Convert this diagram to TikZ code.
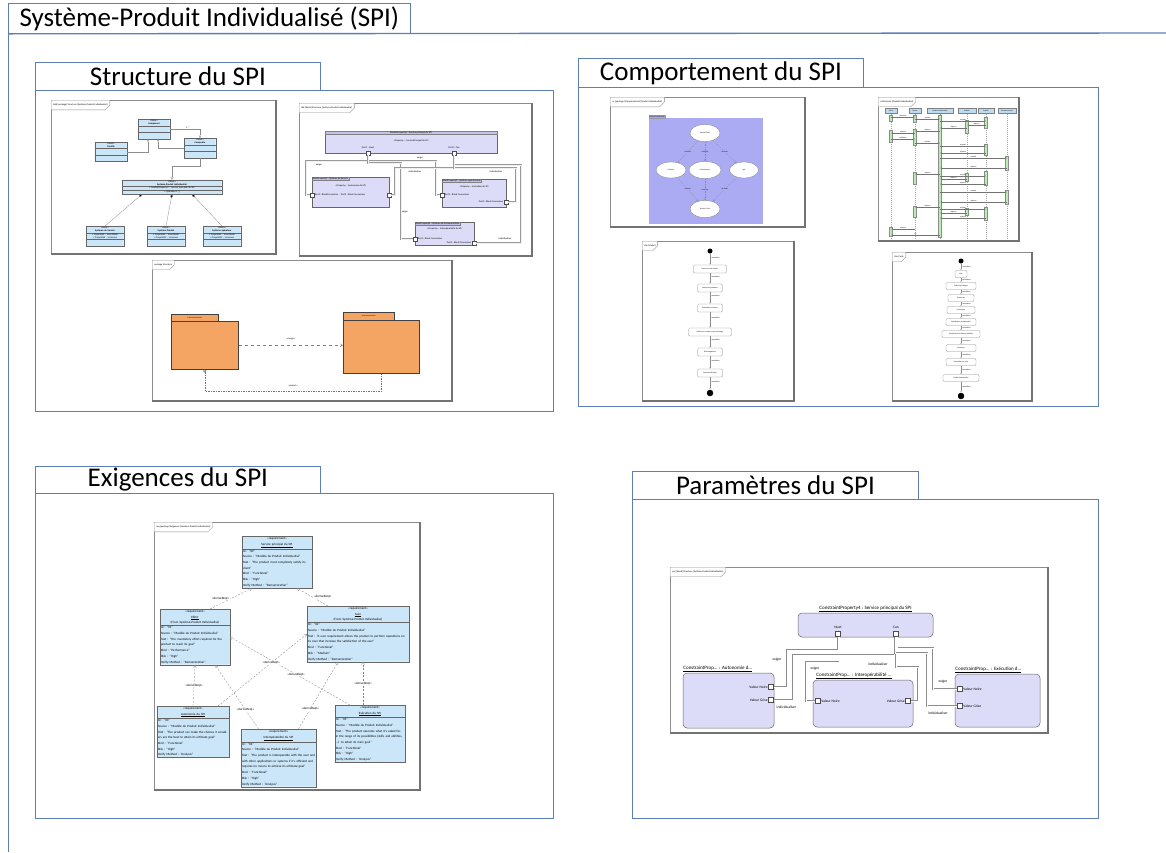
\documentclass[tikz,border=0pt]{standalone}
\usepackage{fontspec}
\setmainfont{Carlito}
\usepackage{tikz}
\usetikzlibrary{arrows.meta}
\usetikzlibrary{shapes.geometric}
\usetikzlibrary{shapes.misc}
\usetikzlibrary{shapes.multipart}

\definecolor{panelblue}{HTML}{5E7FB5}
\definecolor{framegray}{HTML}{8C8C8C}
\definecolor{blockblue}{HTML}{CCE6F9}
\definecolor{blocklav}{HTML}{DCDCF8}
\definecolor{striplav}{HTML}{C2C2EA}
\definecolor{subjpurple}{HTML}{ABABF4}
\definecolor{pkgorange}{HTML}{F4A564}
\definecolor{actgreen}{HTML}{B6EFAF}
\definecolor{headblue}{HTML}{BCDCF6}

\newcommand{\tabf}{\fontsize{27}{30}\selectfont}
\newcommand{\tinyf}{\fontsize{2.4}{2.8}\selectfont}
\newcommand{\microf}{\fontsize{1.8}{2.1}\selectfont}
\newcommand{\reqf}{\fontsize{3.2}{5.7}\selectfont}
\newcommand{\parf}{\fontsize{5}{6}\selectfont}
\newcommand{\portf}{\fontsize{3.6}{4.2}\selectfont}
\newcommand{\ctr}[1]{\makebox[\hsize][c]{#1}}

\begin{document}
\begin{tikzpicture}
[x=1pt,y=-1pt,
 tab/.style={draw=panelblue,fill=white,line width=.8pt,inner sep=0pt,anchor=north west,font=\tabf},
 panel/.style={draw=panelblue,line width=.8pt},
 frame/.style={draw=framegray,line width=.5pt,fill=white},
 fshadow/.style={draw=black!55,line width=1.1pt},
 fhead/.style={chamfered rectangle,chamfered rectangle corners=south east,draw=framegray,line width=.3pt,inner sep=.6pt,anchor=north west,font=\tinyf,fill=white},
 blk/.style={rectangle split,rectangle split parts=3,draw=black!60,line width=.3pt,fill=blockblue,font=\tinyf,align=center,inner sep=.7pt,rectangle split empty part height=3.2pt},
 assoc/.style={draw=black!45,line width=.3pt},
 lav/.style={draw=black!60,fill=blocklav,line width=.4pt,inner sep=0pt},
 strip/.style={draw=black!50,fill=striplav,font=\tinyf,inner sep=.6pt,line width=.2pt,anchor=north west},
 port/.style={draw=black!70,fill=white,minimum size=4pt,inner sep=0pt,line width=.3pt},
 conn/.style={draw=black!40,double=black!6,double distance=.5pt,line width=.3pt},
 clab/.style={font=\tinyf,inner sep=.4pt},
 pkg/.style={draw=black!75,fill=pkgorange,line width=.5pt,inner sep=0pt,anchor=north west},
 dep/.style={draw=black!50,dashed,line width=.35pt,-{Straight Barb[length=2.5pt,width=3pt]}},
 imp/.style={draw=black!55,dash pattern=on 1.5pt off 1pt,line width=.5pt,{Circle[open,length=3pt]}-},
 subjtab/.style={fill=subjpurple,draw=black!40,line width=.2pt,font=\microf,anchor=south west,inner sep=.6pt},
 uc/.style={ellipse,draw=black!50,fill=white,font=\microf,inner sep=0pt,line width=.3pt},
 ucl/.style={draw=black!45,dash pattern=on 1.5pt off 1pt,line width=.25pt,-{Straight Barb[length=2pt,width=2pt]}},
 lhead/.style={draw=black!50,fill=headblue,minimum height=5pt,inner sep=0pt,font=\microf,line width=.2pt},
 lifeline/.style={draw=black!35,dash pattern=on 1pt off 1pt,line width=.25pt},
 act/.style={fill=actgreen,draw=black!45,line width=.2pt},
 msg/.style={draw=black!55,line width=.25pt,-{Latex[length=1.5pt,width=1.2pt]}},
 state/.style={rounded corners=1.2pt,draw=black!45,fill=white,font=\microf,inner sep=.6pt,minimum height=7pt,line width=.3pt},
 initial/.style={circle,fill=black,minimum size=5pt,inner sep=0pt},
 final/.style={circle,fill=black,draw=black,minimum size=6pt,inner sep=0pt},
 trans/.style={draw=black!45,line width=.3pt,-{Latex[length=1.5pt,width=1.2pt]}},
 req/.style={rectangle split,rectangle split parts=2,draw=black!60,fill=blockblue,font=\reqf,align=left,inner sep=.9pt,line width=.4pt,anchor=north},
 drv/.style={draw=black!50,dash pattern=on 2pt off 1.5pt,line width=.3pt,-{Straight Barb[length=2.5pt,width=3pt]}},
 dlab/.style={font=\reqf,inner sep=.4pt,fill=white},
 cstr/.style={rounded corners=4pt,draw=black!60,fill=blocklav,line width=.5pt,inner sep=0pt},
 pport/.style={draw=black!70,fill=white,minimum size=5pt,inner sep=0pt,line width=.4pt},
 pline/.style={draw=black!45,double=white,double distance=.6pt,line width=.35pt},
 plab/.style={font=\portf,inner sep=.5pt}]
\useasboundingbox (0,0) rectangle (1166,852);

\node[tab,minimum width=402pt,minimum height=30pt] (tspi) at (8,3) {Système-Produit Individualisé (SPI)};
\draw[panel,line width=1.4pt] (tspi.south west) -- (1166,33);
\draw[panel] (tspi.south west) -- (8,852);

\node[tab,minimum width=285pt,minimum height=28pt] (tstruct) at (35,62) {Structure du SPI};
\draw[panel] (tstruct.south west) rectangle (553,411);
\node[tab,minimum width=285pt,minimum height=29pt] (tcomp) at (578,58) {Comportement du SPI};
\draw[panel] (tcomp.south west) rectangle (1098,406);
\node[tab,minimum width=285pt,minimum height=27pt] (texig) at (35,466) {Exigences du SPI};
\draw[panel] (texig.south west) rectangle (553,818);
\node[tab,minimum width=286pt,minimum height=28pt] (tparam) at (632,471) {Paramètres du SPI};
\draw[panel] (tparam.south west) rectangle (1098,818);

\foreach \xa/\ya/\xb/\yb in {51/100/276/254, 299/103/532/256, 152/260/452/401,
  610/97/805/227, 878/97/1019/241, 642/241/794/401, 892/252/1032/401,
  154/522/420/790, 670/567/1048/733}
  {\draw[frame] (\xa,\ya) rectangle (\xb,\yb);
   \draw[fshadow] (\xa,\yb) -- (\xb,\yb) -- (\xb,\ya);}

\node[fhead] (hbdd) at (51,100) {bdd [package] Structure [Système-Produit Individualisé]};
\node[blk,text width=30pt] (cmp) at (154,129) {«block»\\\textbf{Composant}};
\node[blk,text width=31pt] (fam) at (111,152) {«block»\\\textbf{Famille}};
\node[blk,text width=30pt] (cps) at (200,148) {«block»\\\textbf{Composite}};
\node[blk,text width=98pt] (spi) at (172,187) {«block»\\\textbf{Système-Produit Individualisé}\nodepart{two}+ ModèleProperty1 : Service principal du SPI\nodepart{three}+ Opération1 ( )};
\node[blk,text width=36pt] (sys1) at (105,236) {«block»\\\textbf{Système de Service}\nodepart{two}+ Propriété1 : Incertitude\\+ Propriété2 : Inconnue};
\node[blk,text width=36pt] (sys2) at (166,236) {«block»\\\textbf{Système Produit}\nodepart{two}+ Propriété1 : Incertitude\\+ Propriété2 : Inconnue};
\node[blk,text width=36pt] (sys3) at (222,236) {«block»\\\textbf{Système opérateur}\nodepart{two}+ Propriété1 : Incertitude\\+ Propriété2 : Inconnue};
\draw[assoc,-{Diamond[open,length=3pt,width=2pt]}] (cmp.east) -| (cps.north) node[pos=.3,above,clab] (m1) {1..*};
\draw[assoc,-{Diamond[open,length=3pt,width=2pt]}] (fam.east) -| ([xshift=-6pt]cmp.south);
\draw[assoc,-{Diamond[open,length=3pt,width=2pt]}] (cps.west) -| ([xshift=4pt]cmp.south);
\draw[assoc,-{Triangle[open,length=3pt,width=3pt]}] (cps.south) -- ++(0,8) -| (spi.north);
\foreach \b/\s in {sys1/-30,sys2/0,sys3/20}
  \draw[assoc,-{Diamond[fill=black,length=4pt,width=2.5pt]}] (\b.north) -- ([xshift=\s pt]spi.south);

\node[fhead] (hibd) at (299,103) {ibd [block] Structure [Système-Produit Individualisé]};
\node[lav,minimum width=172pt,minimum height=22pt] (mb) at (411,142) {};
\node[strip,minimum width=172pt,align=left] (mbh) at (mb.north west) {ModèleProperty1 : Service principal du SPI};
\node[clab] (mbt) at (411,141) {«Property» : ServicePrincipal du SPI};
\node[lav,minimum width=77pt,minimum height=30pt] (pl) at (350.5,192) {};
\node[strip] (plh) at (pl.north west) {BlockProperty2 : Système de Service};
\node[clab] (plt) at (350.5,186) {«Property» : Autonomie du SPI};
\node[lav,minimum width=64pt,minimum height=28pt] (pr) at (474,193) {};
\node[strip] (prh) at (pr.north west) {BlockProperty3 : Système opérationnel};
\node[clab] (prt) at (474,187) {«Property» : Exécution du SPI};
\node[lav,minimum width=59pt,minimum height=23pt] (pb) at (444.5,233.5) {};
\node[strip] (pbh) at (pb.north west) {BlockProperty4 : Système de Communication};
\node[clab] (pbt) at (444.5,229) {«Property» : Interopérabilité du SPI};
\node[port] (pm1) at (368,153) {};
\node[port] (pm2) at (454,153) {};
\node[port] (pl1) at (312,195) {};
\node[port] (pl2) at (389,195) {};
\node[port] (pr1) at (442,195) {};
\node[port] (pr2) at (506,202) {};
\node[port] (pb1) at (415,239) {};
\node[port] (pb2) at (474,243) {};
\node[clab] (pm1l) at (368,148) {Port1 : Nuet};
\node[clab] (pm2l) at (454,148) {Port2 : Can};
\node[clab,anchor=west] (pl1l) at (pl1.east) {Port1 : BlockConnecteur\quad Port2 : Block Connecteur};
\node[clab,anchor=west] (pr1l) at (pr1.east) {Port1 : Block Connecteur};
\node[clab,anchor=east] (pr2l) at (pr2.west) {Port2 : Block Connecteur};
\node[clab,anchor=west] (pb1l) at (pb1.east) {Port1 : Block Connecteur};
\node[clab,anchor=east] (pb2l) at (pb2.west) {Port2 : Block Connecteur};
\draw[conn] (pm1.south) |- (306,161) |- (pl1.west);
\draw[conn] (pm1.south) |- (436,161) |- (pr1.west);
\draw[conn] (pm1.south) |- (401,163) |- (pb1.west);
\draw[conn] (pm2.south) |- (395,168) |- (pl2.east);
\draw[conn] (pm2.south) |- (516,168) |- (pr2.east);
\draw[conn] (pb2.east) -| (521,165) -| (pm2.south);
\node[clab] (ib1) at (319,165) {exiger};
\node[clab] (ib2) at (420,158) {exiger};
\node[clab] (ib3) at (405,212) {exiger};
\node[clab] (ib4) at (415,172) {individualiser};
\node[clab] (ib5) at (496,172) {individualiser};
\node[clab] (ib6) at (505,239) {individualiser};

\node[fhead] (hpkg) at (152,260) {package Structure};
\node[pkg,minimum width=47pt,minimum height=7pt,font=\microf] (pk1t) at (171,314) {ProduitIndividualisé};
\node[pkg,minimum width=67pt,minimum height=48pt] (pk1) at (171,321) {};
\node[pkg,minimum width=51pt,minimum height=8pt,font=\microf] (pk2t) at (343,312) {SystèmeInnovation};
\node[pkg,minimum width=76pt,minimum height=53pt] (pk2) at (343,320) {};
\draw[dep] (pk1.east) -- (pk1.east -| pk2.west) node[midway,above=2pt,font=\tinyf] (lmerge) {«merge»};
\draw[imp] (pk1.south) -- ++(0,22) -| (pk2.south) node[pos=.25,above=1pt,font=\tinyf] (limport) {«import»};

\node[fhead] (huc) at (610,97) {uc [package] Comportement [Produit Individualisé]};
\fill[subjpurple] (649,118) rectangle (763,224);
\node[subjtab] (subj) at (649,118) {Produit individualisé};
\node[uc,minimum width=30pt,minimum height=17pt] (u1) at (705,133) {Besoin Client};
\node[uc,minimum width=30pt,minimum height=16pt] (u2) at (671,170) {S'adapter};
\node[uc,minimum width=32pt,minimum height=17pt] (u3) at (705,170) {Communiquer};
\node[uc,minimum width=29pt,minimum height=16pt] (u4) at (744,170) {Agir};
\node[uc,minimum width=30pt,minimum height=17pt] (u5) at (705,209) {Prendre l'info};
\foreach \a/\b in {u1/u2,u1/u3,u1/u4,u2/u5,u3/u5,u4/u5}
  \draw[ucl] (\a) -- (\b) node[midway,font=\microf,fill=subjpurple,inner sep=.3pt] (\a\b) {«include»};

\node[fhead] (hsd) at (878,97) {sd Scénario [Produit Individualisé]};
\foreach \n/\x/\w/\t in {l1/891/12/Client,l2/915/12/Acteur,l3/940/26/{Produit Individualisé},l4/967/18/Entité1,l5/986/16/Entité2,l6/1007/18/Environnement}
  \node[lhead,minimum width=\w pt] (\n) at (\x,111) {\t};
\foreach \n in {l1,l2,l3,l4,l5,l6}
  \draw[lifeline] (\n.south) -- (\n.south |- 0,238);
\foreach \n/\ya/\h in {l1/115/6,l1/130/12,l1/227/9,l2/115/7,l2/129/16,l2/172/12,l2/206/11,l3/115/122,l4/120/13,l4/173/8,l4/208/7,l5/117/11,l5/144/11,l5/171/14,l5/207/13,l6/156/14,l6/190/14}
  \filldraw[act] (\n.south |- 0,\ya) ++(-1.5,0) rectangle ++(3,\h);
\foreach \a/\b/\y/\t in {l1/l2/117/demande,l2/l3/119/requête,l3/l5/121/requête,l5/l4/125/réponse,l4/l3/128/réponse,l3/l2/131/réponse,l2/l1/133/réponse,l1/l2/139/validation,l2/l3/143/requête,l3/l5/146/requête,l5/l3/153/réponse,l3/l6/158/requête,l6/l3/168/réponse,l3/l2/174/réponse,l3/l5/176/requête,l4/l3/179/réponse,l5/l3/184/réponse,l3/l6/192/requête,l6/l3/202/réponse,l3/l2/207/réponse,l3/l5/209/requête,l4/l3/213/réponse,l5/l3/218/réponse,l2/l1/229/réponse,l3/l1/235/fin}
  \draw[msg] (\a.south |- 0,\y) -- (\b.south |- 0,\y) node[midway,above,font=\microf,inner sep=.3pt] (m\y) {\t};

\node[fhead] (hst1) at (642,241) {stm Produit};
\node[initial] (i1) at (710,251) {};
\foreach \n/\y/\w/\t in {a1/269/33/{Expression des besoins},a2/288/25/{Analyse du problème},a3/308/25/{Évaluation technique},a4/332/43/{Recherche, analyse et pré-archivage},a5/352/25/Développement,a6/373/25/Commercialisation}
  \node[state,minimum width=\w pt,minimum height=8pt] (\n) at (710,\y) {\t};
\node[final] (f1) at (710,393) {};
\foreach \p/\q in {i1/a1,a1/a2,a2/a3,a3/a4,a4/a5,a5/a6,a6/f1}
  \draw[trans] (\p) -- (\q) node[pos=.35,right,font=\microf,inner sep=1pt] (\p\q) {«transition»};

\node[fhead] (hst2) at (892,252) {stm Cycle};
\node[initial] (i2) at (961,261) {};
\foreach \n/\y/\w/\t in {s1/274/12/Idée,s2/286/30/{Cahier des charges},s3/298/26/Recherche,s4/310/28/Conception,s5/322/30/{Spécification fonctionnelle},s6/334/38/{Spécification technique détaillée},s7/348/30/Prototype,s8/362/30/{Production en série},s9/378/36/{Produit Individualisé}}
  \node[state,minimum width=\w pt] (\n) at (961,\y) {\t};
\node[final] (f2) at (961,396) {};
\foreach \p/\q in {i2/s1,s1/s2,s2/s3,s3/s4,s4/s5,s5/s6,s6/s7,s7/s8,s8/s9,s9/f2}
  \draw[trans] (\p) -- (\q) node[midway,right,font=\microf,inner sep=1pt] (\p\q) {«transition»};

\node[fhead] (hreq) at (154,522) {req [package] Exigences [Système-Produit Individualisé]};
\node[req,text width=68pt] (r0) at (277,536) {\ctr{«requirement»}\\\ctr{\underline{Service principal du SPI}}\nodepart{two}Id : "00"\\Source : "Modèle du Produit Individualisé"\\Text : "The product must completely satisfy its client"\\Kind : "Functional"\\Risk : "High"\\Verify Method : "Demonstration"};
\node[req,text width=68pt] (r1) at (195,609) {\ctr{«requirement»}\\\ctr{\underline{Effort}}\\\ctr{(From Système-Produit Individualisé)}\nodepart{two}Id : "01"\\Source : "Modèle du Produit Individualisé"\\Text : "The mandatory effort required for the product to reach its goal"\\Kind : "Performance"\\Risk : "High"\\Verify Method : "Demonstration"};
\node[req,text width=100pt] (r2) at (358,606) {\ctr{«requirement»}\\\ctr{\underline{Gain}}\\\ctr{(From Système-Produit Individualisé)}\nodepart{two}Id : "02"\\Source : "Modèle du Produit Individualisé"\\Text : "A user requirement allows the product to perform operations on its own that increase the satisfaction of the user"\\Kind : "Functional"\\Risk : "Medium"\\Verify Method : "Demonstration"};
\node[req,text width=70pt] (r3) at (193,706) {\ctr{«requirement»}\\\ctr{\underline{Autonomie du SPI}}\nodepart{two}Id : "03"\\Source : "Modèle du Produit Individualisé"\\Text : "The product can make the choices it considers are the best to attain its ultimate goal"\\Kind : "Functional"\\Risk : "High"\\Verify Method : "Analysis"};
\node[req,text width=73pt] (r4) at (278.5,729) {\ctr{«requirement»}\\\ctr{\underline{Interopérabilité du SPI}}\nodepart{two}Id : "04"\\Source : "Modèle du Produit Individualisé"\\Text : "The product is interoperable with the user and with other applications or systems if it's efficient and requires no means to achieve its ultimate goal"\\Kind : "Functional"\\Risk : "High"\\Verify Method : "Analysis"};
\node[req,text width=68pt] (r5) at (370,705) {\ctr{«requirement»}\\\ctr{\underline{Exécution du SPI}}\nodepart{two}Id : "05"\\Source : "Modèle du Produit Individualisé"\\Text : "The product executes what it's asked for, in the range of its possibilities (skills and abilities, ...) to attain its main goal"\\Kind : "Functional"\\Risk : "High"\\Verify Method : "Analysis"};
\draw[drv] ([xshift=15pt]r1.north) -- ([xshift=-25pt]r0.south) node[midway,left=1pt,dlab] (e1) {«deriveReqt»};
\draw[drv] ([xshift=-30pt]r2.north) -- ([xshift=20pt]r0.south) node[midway,right=1pt,dlab] (e2) {«deriveReqt»};
\draw[drv] (r3.north) -- (r1.south) node[midway,dlab] (e3) {«deriveReqt»};
\draw[drv] ([xshift=-7pt]r5.north) -- ([xshift=5pt]r2.south) node[midway,dlab] (e4) {«deriveReqt»};
\draw[drv] ([xshift=-20pt]r5.north) -- (r1.east) node[pos=.45,dlab] (e5) {«deriveReqt»};
\draw[drv] ([xshift=25pt]r3.north) -- (r2.west) node[pos=.6,dlab] (e6) {«deriveReqt»};
\draw[drv] ([xshift=-20pt]r4.north) -- ([xshift=20pt]r1.south) node[pos=.3,dlab] (e7) {«deriveReqt»};
\draw[drv] ([xshift=20pt]r4.north) -- ([xshift=-20pt]r2.south) node[pos=.3,dlab] (e8) {«deriveReqt»};

\node[fhead] (hpar) at (670,567) {par [block] Structure [Système-Produit Individualisé]};
\node[cstr,minimum width=135pt,minimum height=24pt] (c0) at (865.5,625) {};
\node[font=\parf,anchor=south,inner sep=.5pt] (c0n) at (c0.north) {\underline{ConstraintProperty4 : Service principal du SPI}};
\node[cstr,minimum width=91pt,minimum height=55pt] (c1) at (728.5,700.5) {};
\node[font=\parf,anchor=south west,inner sep=.5pt] (c1n) at (c1.north west) {\underline{ConstraintProp... : Autonomie d...}};
\node[cstr,minimum width=100pt,minimum height=47pt] (c2) at (863,703.5) {};
\node[font=\parf,anchor=south west,inner sep=.5pt] (c2n) at ([xshift=3pt]c2.north west) {\underline{ConstraintProp... : Interopérabilité ...}};
\node[cstr,minimum width=85pt,minimum height=53pt] (c3) at (997.5,700.5) {};
\node[font=\parf,anchor=south west,inner sep=.5pt] (c3n) at (c3.north west) {\underline{ConstraintProp... : Exécution d...}};
\node[pport] (c0a) at (838,634) {};
\node[pport] (c0b) at (896,634) {};
\node[pport] (c1a) at (771,687) {};
\node[pport] (c1b) at (771,700) {};
\node[pport] (c2a) at (818,701) {};
\node[pport] (c2b) at (908,701) {};
\node[pport] (c3a) at (960,689) {};
\node[pport] (c3b) at (960,706) {};
\node[plab] (c0al) at (838,627) {Nuet};
\node[plab] (c0bl) at (896,627) {Can};
\node[plab,anchor=east] (c1al) at (c1a.west) {Valeur Noire};
\node[plab,anchor=east] (c1bl) at (c1b.west) {Valeur Grise};
\node[plab,anchor=west] (c2al) at (c2a.east) {Valeur Noire};
\node[plab,anchor=east] (c2bl) at (c2b.west) {Valeur Grise};
\node[plab,anchor=west] (c3al) at (c3a.east) {Valeur Noire};
\node[plab,anchor=west] (c3bl) at (c3b.east) {Valeur Grise};
\draw[pline] (c0a.south) |- (787,650) |- (c1a.east);
\draw[pline] ([xshift=1.5pt]c0a.south) |- (806,662) |- (c2a.west);
\draw[pline] (c1b.east) -| (793,655) -| ([xshift=-1.5pt]c0b.south);
\draw[pline] (c0b.south) |- (918,667) |- (c2b.east);
\draw[pline] ([xshift=1.5pt]c0b.south) |- (933,648) |- (c3a.west);
\draw[pline] ([xshift=-1pt]c0b.south) |- (927,653) |- (c3b.west);
\node[plab] (x1) at (777,660) {exiger};
\node[plab] (x2) at (815,669) {exiger};
\node[plab,anchor=west] (x3) at (776,707) {individualiser};
\node[plab] (x4) at (878,664) {individualiser};
\node[plab] (x5) at (943,682) {exiger};
\node[plab] (x6) at (938,713) {individualiser};
\end{tikzpicture}
\end{document}
